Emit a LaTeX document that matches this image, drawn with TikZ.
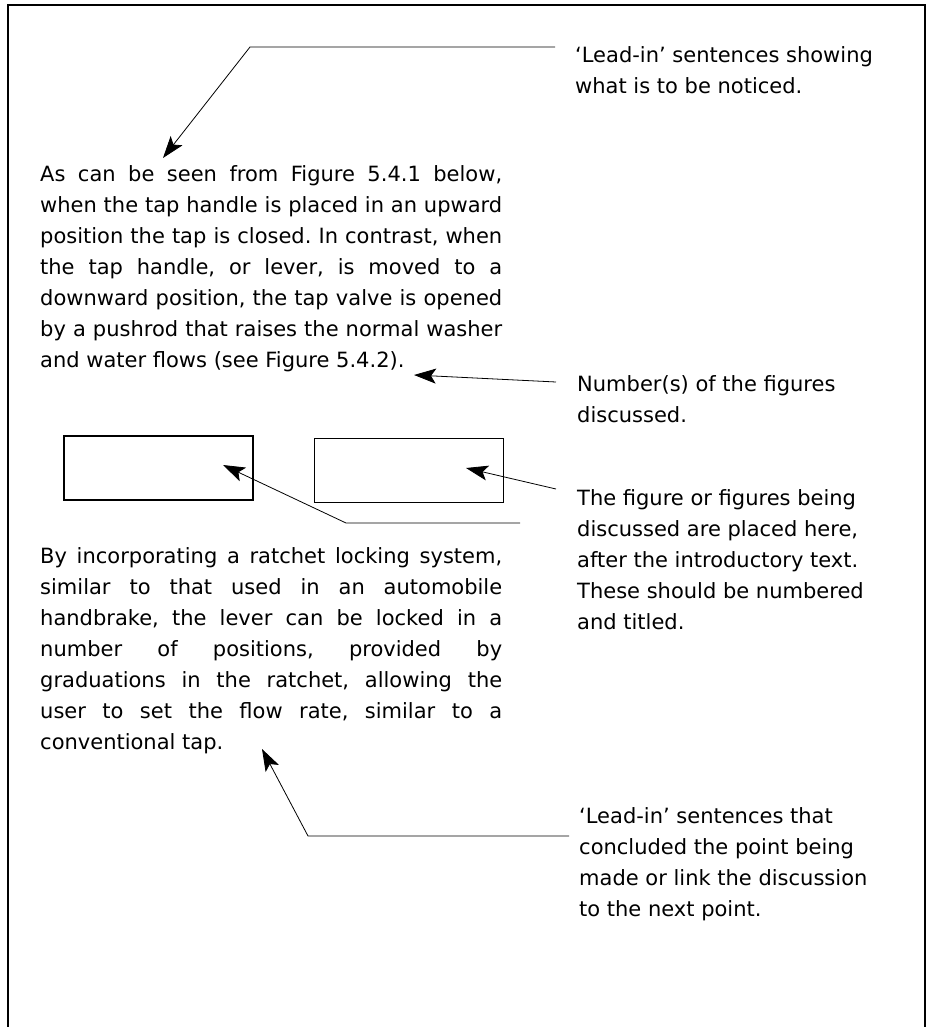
\documentclass[tikz,border=0pt]{standalone}
\usepackage{fontspec}
\setmainfont{DejaVu Sans}
\usetikzlibrary{arrows.meta,positioning}

\begin{document}
\frenchspacing
\begin{tikzpicture}[
  x=1pt, y=-1pt,
  every node/.style={font=\fontsize{21}{31}\selectfont},
  para/.style={anchor=north west, inner sep=0pt, text width=462pt, align=justify},
  note/.style={anchor=north west, inner sep=0pt, align=left},
  figbox/.style={draw, line width=1.3pt, minimum width=189pt, minimum height=64pt, inner sep=0pt},
  arr/.style={-{Stealth[length=22pt,width=15pt,inset=5pt]}, line width=0.8pt}
]
\useasboundingbox (0,0) rectangle (930,1027);

% page frame, open at the bottom
\draw[line width=1.2pt] (8,1040) -- (8,5) -- (925,5) -- (925,1040);

% body text
\node[para] (intro) at (40,165.5) {As can be seen from Figure 5.4.1 below,\linebreak
when the tap handle is placed in an upward\linebreak
position the tap is closed. In contrast, when\linebreak
the tap handle, or lever, is moved to a\linebreak
downward position, the tap valve is opened\linebreak
by a pushrod that raises the normal washer\linebreak
and water flows (see Figure 5.4.2).};

\node[figbox] (figA) at (158.5,468) {};
\node[figbox] (figB) at (409,470.5) {};

\node[para] (outro) at (40,547.5) {By incorporating a ratchet locking system,\linebreak
similar to that used in an automobile\linebreak
handbrake, the lever can be locked in a\linebreak
number of positions, provided by\linebreak
graduations in the ratchet, allowing the\linebreak
user to set the flow rate, similar to a\linebreak
conventional tap.};

% margin notes
\node[note] (leadIn) at (575,46.5) {`Lead-in' sentences showing\\ what is to be noticed.};
\node[note] (figNum) at (577,375.5) {Number(s) of the figures\\ discussed.};
\node[note] (figPlace) at (577,489.5) {The figure or figures being\\ discussed are placed here,\\ after the introductory text.\\ These should be numbered\\ and titled.};
\node[note] (leadOut) at (579,807.5) {`Lead-in' sentences that\\ concluded the point being\\ made or link the discussion\\ to the next point.};

% pointers
\coordinate (leadInEnd) at (555,47);
\coordinate (leadInKnee) at (250,47);
\coordinate (introTip) at (163,158);
\coordinate (figNumEnd) at (556,382);
\coordinate (numTip) at (414,375);
\coordinate (figPlaceEnd) at (520,523);
\coordinate (figPlaceKnee) at (346,523);
\coordinate (figATip) at (223,465);
\coordinate (figBEnd) at (556,489);
\coordinate (figBTip) at (466,468);
\coordinate (leadOutEnd) at (569,836);
\coordinate (leadOutKnee) at (308,836);
\coordinate (outroTip) at (262,749);

\draw[arr] (leadInEnd) -- (leadInKnee) -- (introTip);
\draw[arr] (figNumEnd) -- (numTip);
\draw[arr] (figPlaceEnd) -- (figPlaceKnee) -- (figATip);
\draw[arr] (figBEnd) -- (figBTip);
\draw[arr] (leadOutEnd) -- (leadOutKnee) -- (outroTip);

\end{tikzpicture}
\end{document}
